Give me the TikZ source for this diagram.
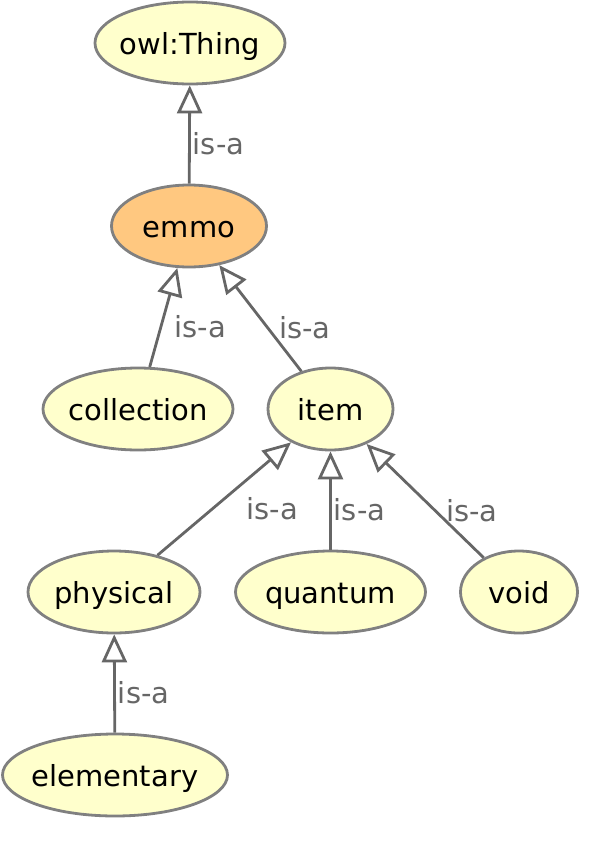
\documentclass[tikz,border=0pt]{standalone}
\usepackage{fontspec}
\setmainfont{DejaVu Sans}
\usepackage{xcolor}
\usepackage{tikz}
\usetikzlibrary{arrows.meta,shapes.geometric}
\definecolor{ontfill}{HTML}{FFFFCC}
\definecolor{ontroot}{HTML}{FFC880}
\definecolor{ontline}{HTML}{808080}
\definecolor{isagray}{HTML}{666666}
\newcommand{\ontname}[1]{\makebox[0pt]{\raisebox{-0.7ex}[0pt][0pt]{#1}}}
\tikzset{
  ontclass/.style  = {ellipse, draw=ontline, fill=ontfill, line width=2.8pt,
                      inner sep=0pt, minimum height=82pt,
                      font=\fontsize{29}{34}\selectfont},
  ontmain/.style   = {ontclass, fill=ontroot},
  isaflow/.style   = {-{Triangle[length=28pt, width=25pt, fill=white]},
                      draw=isagray, line width=2.8pt},
  isalbl/.style    = {pos=0.41, anchor=west, inner sep=0pt, text=isagray,
                      font=\fontsize{29}{34}\selectfont},
}
\begin{document}
\begin{tikzpicture}[x=1pt, y=-1pt]
  \useasboundingbox (0,0) rectangle (609,846);
  \node[ontclass, minimum width=190pt] (thing)      at (190,43)    {\ontname{owl:Thing}};
  \node[ontmain,  minimum width=155pt] (emmo)       at (189,226)   {\ontname{emmo}};
  \node[ontclass, minimum width=190pt] (collection) at (138,409)   {\ontname{collection}};
  \node[ontclass, minimum width=125pt] (item)       at (330.5,409) {\ontname{item}};
  \node[ontclass, minimum width=172pt] (physical)   at (114,592)   {\ontname{physical}};
  \node[ontclass, minimum width=190pt] (quantum)    at (330.5,592) {\ontname{quantum}};
  \node[ontclass, minimum width=117pt] (void)       at (519,592)   {\ontname{void}};
  \node[ontclass, minimum width=225pt] (elementary) at (115,775)   {\ontname{elementary}};

  \draw[isaflow] (emmo)       -- node[isalbl, xshift=2pt]{is-a}  (thing);
  \draw[isaflow] (collection) -- node[isalbl, xshift=12pt]{is-a} (emmo);
  \draw[isaflow] (item)       -- node[isalbl, xshift=10pt]{is-a} (emmo);
  \draw[isaflow] (physical)   -- node[isalbl, xshift=33pt]{is-a} (item);
  \draw[isaflow] (quantum)    -- node[isalbl, xshift=2pt]{is-a}  (item);
  \draw[isaflow] (void)       -- node[isalbl, xshift=9pt]{is-a}  (item);
  \draw[isaflow] (elementary) -- node[isalbl, xshift=2pt]{is-a}  (physical);
\end{tikzpicture}
\end{document}
